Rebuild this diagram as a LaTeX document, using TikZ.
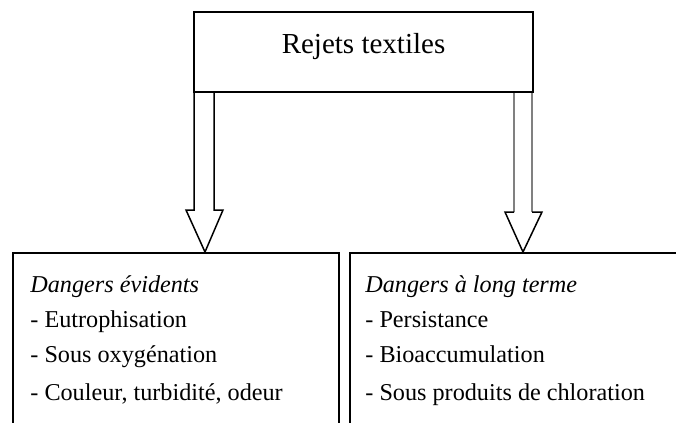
\documentclass[tikz,border=0pt]{standalone}
\usepackage{fontspec}
\setmainfont{Liberation Serif}
\usetikzlibrary{calc}

\begin{document}
\begin{tikzpicture}[
    x=0.5pt, y=-0.5pt,
    every node/.style={font=\fontsize{12.1}{15}\selectfont, inner sep=0pt},
    topbox/.style={draw, line width=1pt, minimum width=169.5pt, minimum height=40pt},
    dangerbox/.style={draw, line width=1pt, anchor=north west, minimum height=100pt},
    item/.style={anchor=base west},
    hollow/.style={line width=0.75pt, line join=miter}
]
\useasboundingbox (0,0) rectangle (676,423);

% source
\node[topbox] (rejets) at (363.5,52) {};
\node[anchor=base, font=\fontsize{14.5}{17}\selectfont] (titre) at (363.5,54) {Rejets textiles};

% les deux cadres
\node[dangerbox, minimum width=163pt] (gauche) at (12,252) {};
\node[dangerbox, minimum width=175pt] (droite) at (349,252) {};

% dangers evidents
\node[item] (g0) at (30,292) {\itshape Dangers évidents};
\node[item] (g1) at (30,327) {- Eutrophisation};
\node[item] (g2) at (30,362) {- Sous oxygénation};
\node[item] (g3) at (30,400) {- Couleur, turbidité, odeur};

% dangers a long terme
\node[item] (d0) at (365,292) {\itshape Dangers à long terme};
\node[item] (d1) at (365,327) {- Persistance};
\node[item] (d2) at (365,362) {- Bioaccumulation};
\node[item] (d3) at (365,400) {- Sous produits de chloration};

% fleches creuses
\coordinate (gtip) at ($(rejets.south west |- gauche.north)+(12,0)$);
\coordinate (dtip) at ($(rejets.south east |- droite.north)+(-11,0)$);
\draw[hollow] ($(rejets.south west)+(1,0)$) -- ($(gtip)+(-11,-42)$) -- ($(gtip)+(-19,-42)$)
    -- (gtip) -- ($(gtip)+(18,-42)$) -- ($(gtip)+(9,-42)$) -- ($(rejets.south west)+(21,0)$);
\draw[hollow, gray] ($(rejets.south east)+(-20,0)$) -- ($(dtip)+(-9,-40)$);
\draw[hollow, gray] ($(rejets.south east)+(-2,0)$) -- ($(dtip)+(9,-40)$);
\draw[hollow] ($(dtip)+(-9,-40)$) -- ($(dtip)+(-18,-40)$) -- (dtip)
    -- ($(dtip)+(19,-40)$) -- ($(dtip)+(9,-40)$);

\end{tikzpicture}
\end{document}
